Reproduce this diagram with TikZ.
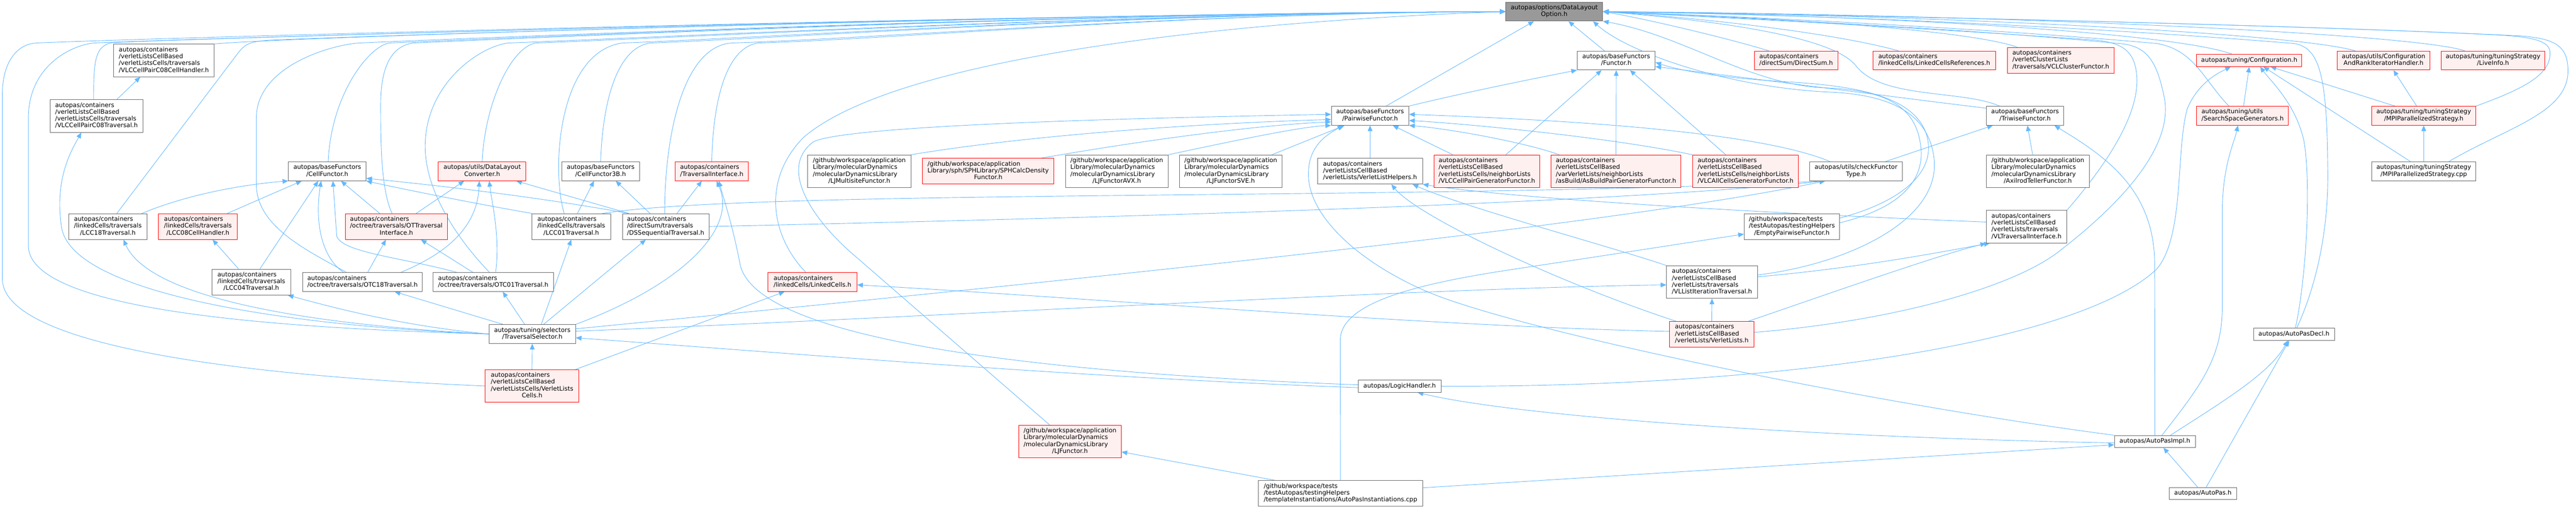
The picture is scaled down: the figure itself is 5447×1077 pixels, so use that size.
\documentclass[tikz,border=0pt]{standalone}
\usepackage{fontspec}
\setmainfont{DejaVu Sans}
\usepackage{tikz}
\usetikzlibrary{arrows.meta}
\pgfdeclarelayer{bg}
\pgfsetlayers{bg,main}
\definecolor{edgeblue}{HTML}{63B8FF}
\definecolor{boxgray}{HTML}{666666}
\definecolor{rootgray}{HTML}{999999}
\definecolor{truncfill}{HTML}{FFF0F0}
\newcommand{\flab}[2]{\begin{tabular}{@{}l@{}}#1\\\multicolumn{1}{@{}c@{}}{#2}\end{tabular}}
\newcommand{\fone}[1]{\begin{tabular}{@{}c@{}}#1\end{tabular}}
\tikzset{
  file/.style={draw=boxgray, fill=white, line width=1pt, inner xsep=4pt, inner ysep=5.5pt, font=\fontsize{13}{14.5}\selectfont},
  trunc/.style={file, draw=red, fill=truncfill},
  rootfile/.style={file, fill=rootgray},
  dep/.style={draw=edgeblue, line width=1pt, -{Triangle[length=12pt,width=10pt]}}
}
\begin{document}
\begin{tikzpicture}[x=1pt, y=-1pt]
\useasboundingbox (0,0) rectangle (5447,1077);
\begin{scope}
  % rank 0
  \node[rootfile, minimum width=205pt] (root) at (3286.5,24.5) {\flab{autopas/options/DataLayout}{Option.h}};
  % rank 1
  \node[file, minimum width=213pt] (vlccph) at (346.5,128) {\flab{autopas/containers\\/verletListsCellBased\\/verletListsCells/traversals}{/VLCCellPairC08CellHandler.h}};
  \node[file, minimum width=165pt] (functor) at (3417.5,128) {\flab{autopas/baseFunctors}{/Functor.h}};
  \node[trunc, minimum width=176pt] (directsum) at (3798,128) {\flab{autopas/containers}{/directSum/DirectSum.h}};
  \node[trunc, minimum width=260pt] (lcref) at (4090,128) {\flab{autopas/containers}{/linkedCells/LinkedCellsReferences.h}};
  \node[trunc, minimum width=225pt] (vclcf) at (4357.5,127.5) {\flab{autopas/containers\\/verletClusterLists}{/traversals/VCLClusterFunctor.h}};
  \node[trunc, minimum width=222pt] (config) at (4756,128) {\fone{autopas/tuning/Configuration.h}};
  \node[trunc, minimum width=196pt] (cfgrank) at (5040,128) {\flab{autopas/utils/Configuration}{AndRankIteratorHandler.h}};
  \node[trunc, minimum width=219pt] (liveinfo) at (5271.5,128) {\flab{autopas/tuning/tuningStrategy}{/LiveInfo.h}};
  % rank 2
  \node[file, minimum width=196pt] (vlccpt) at (204,245.5) {\flab{autopas/containers\\/verletListsCellBased\\/verletListsCells/traversals}{/VLCCellPairC08Traversal.h}};
  \node[file, minimum width=164pt] (pairf) at (2897,245) {\flab{autopas/baseFunctors}{/PairwiseFunctor.h}};
  \node[file, minimum width=164pt] (triwise) at (4282,245) {\flab{autopas/baseFunctors}{/TriwiseFunctor.h}};
  \node[trunc, minimum width=194pt] (ssgen) at (4742,245) {\flab{autopas/tuning/utils}{/SearchSpaceGenerators.h}};
  \node[trunc, minimum width=220pt] (mpih) at (5125,245) {\flab{autopas/tuning/tuningStrategy}{/MPIParallelizedStrategy.h}};
  % rank 3
  \node[file, minimum width=164pt] (cellf) at (692,362.5) {\flab{autopas/baseFunctors}{/CellFunctor.h}};
  \node[trunc, minimum width=185pt] (dlc) at (1019.5,362.5) {\flab{autopas/utils/DataLayout}{Converter.h}};
  \node[file, minimum width=164pt] (cellf3b) at (1270,362.5) {\flab{autopas/baseFunctors}{/CellFunctor3B.h}};
  \node[trunc, minimum width=154pt] (travif) at (1505,362.5) {\flab{autopas/containers}{/TraversalInterface.h}};
  \node[file, minimum width=218pt] (ljmulti) at (1817,362.5) {\flab{/github/workspace/application\\Library/molecularDynamics\\/molecularDynamicsLibrary}{/LJMultisiteFunctor.h}};
  \node[trunc, minimum width=277pt] (sph) at (2089.5,362.5) {\flab{/github/workspace/application\\Library/sph/SPHLibrary/SPHCalcDensity}{Functor.h}};
  \node[file, minimum width=217pt] (ljavx) at (2361.5,362.5) {\flab{/github/workspace/application\\Library/molecularDynamics\\/molecularDynamicsLibrary}{/LJFunctorAVX.h}};
  \node[file, minimum width=217pt] (ljsve) at (2602.5,362.5) {\flab{/github/workspace/application\\Library/molecularDynamics\\/molecularDynamicsLibrary}{/LJFunctorSVE.h}};
  \node[file, minimum width=222pt] (vlhelp) at (2897,362.5) {\flab{autopas/containers\\/verletListsCellBased}{/verletLists/VerletListHelpers.h}};
  \node[trunc, minimum width=224pt] (vlccpgf) at (3144,362.5) {\flab{autopas/containers\\/verletListsCellBased\\/verletListsCells/neighborLists}{/VLCCellPairGeneratorFunctor.h}};
  \node[trunc, minimum width=274pt] (asbuild) at (3417,362.5) {\flab{autopas/containers\\/verletListsCellBased\\/varVerletLists/neighborLists}{/asBuild/AsBuildPairGeneratorFunctor.h}};
  \node[trunc, minimum width=224pt] (vlcacgf) at (3691,362.5) {\flab{autopas/containers\\/verletListsCellBased\\/verletListsCells/neighborLists}{/VLCAllCellsGeneratorFunctor.h}};
  \node[file, minimum width=197pt] (checkft) at (3924.5,362.5) {\flab{autopas/utils/checkFunctor}{Type.h}};
  \node[file, minimum width=218pt] (axilrod) at (4309,362.5) {\flab{/github/workspace/application\\Library/molecularDynamics\\/molecularDynamicsLibrary}{/AxilrodTellerFunctor.h}};
  \node[file, minimum width=220pt] (mpicpp) at (5125,362.5) {\flab{autopas/tuning/tuningStrategy}{/MPIParallelizedStrategy.cpp}};
  % rank 4
  \node[file, minimum width=166pt] (lcc18) at (228,479.5) {\flab{autopas/containers\\/linkedCells/traversals}{/LCC18Traversal.h}};
  \node[trunc, minimum width=167pt] (lcc08ch) at (418.5,479.5) {\flab{autopas/containers\\/linkedCells/traversals}{/LCC08CellHandler.h}};
  \node[trunc, minimum width=216pt] (otti) at (838,479.5) {\flab{autopas/containers\\/octree/traversals/OTTraversal}{Interface.h}};
  \node[file, minimum width=166pt] (lcc01) at (1208,479.5) {\flab{autopas/containers\\/linkedCells/traversals}{/LCC01Traversal.h}};
  \node[file, minimum width=183pt] (dsseq) at (1407.5,479.5) {\flab{autopas/containers\\/directSum/traversals}{/DSSequentialTraversal.h}};
  \node[file, minimum width=202pt] (emptypf) at (3789,479.5) {\flab{/github/workspace/tests\\/testAutopas/testingHelpers}{/EmptyPairwiseFunctor.h}};
  \node[file, minimum width=170pt] (vltravif) at (4285,480) {\flab{autopas/containers\\/verletListsCellBased\\/verletLists/traversals}{/VLTraversalInterface.h}};
  % rank 5
  \node[file, minimum width=167pt] (lcc04) at (531.5,597) {\flab{autopas/containers\\/linkedCells/traversals}{/LCC04Traversal.h}};
  \node[file, minimum width=253pt] (otc18) at (766.5,597) {\flab{autopas/containers}{/octree/traversals/OTC18Traversal.h}};
  \node[file, minimum width=254pt] (otc01) at (1043,597) {\flab{autopas/containers}{/octree/traversals/OTC01Traversal.h}};
  \node[trunc, minimum width=188pt] (linkedcells) at (1718,597) {\flab{autopas/containers}{/linkedCells/LinkedCells.h}};
  \node[file, minimum width=192pt] (vllit) at (3620,597) {\flab{autopas/containers\\/verletListsCellBased\\/verletLists/traversals}{/VLListIterationTraversal.h}};
  % rank 6
  \node[file, minimum width=183pt] (travsel) at (1125.5,707) {\flab{autopas/tuning/selectors}{/TraversalSelector.h}};
  \node[trunc, minimum width=179pt] (verletlists) at (3619.5,707.5) {\flab{autopas/containers\\/verletListsCellBased}{/verletLists/VerletLists.h}};
  \node[file, minimum width=171pt] (autopasdecl) at (4850.5,707.5) {\fone{autopas/AutoPasDecl.h}};
  % rank 7
  \node[trunc, minimum width=198pt] (vlcells) at (1125,817) {\flab{autopas/containers\\/verletListsCellBased\\/verletListsCells/VerletLists}{Cells.h}};
  \node[file, minimum width=175pt] (logic) at (2959.5,817.5) {\fone{autopas/LogicHandler.h}};
  % rank 8
  \node[trunc, minimum width=217pt] (ljfunctor) at (2262.5,934.5) {\flab{/github/workspace/application\\Library/molecularDynamics\\/molecularDynamicsLibrary}{/LJFunctor.h}};
  \node[file, minimum width=171pt] (autopasimpl) at (4556.5,934.5) {\fone{autopas/AutoPasImpl.h}};
  % rank 9
  \node[file, minimum width=347pt] (instant) at (2834.5,1044.5) {\flab{/github/workspace/tests\\/testAutopas/testingHelpers}{/templateInstantiations/AutoPasInstantiations.cpp}};
  \node[file, minimum width=142pt] (autopash) at (4658,1044.5) {\fone{autopas/AutoPas.h}};
\begin{pgfonlayer}{bg}
  % into the root, from the left
  \draw[dep] (vlcells.west) .. controls (500,795) and (5,730) .. (5,590) -- (5,200) .. controls (5,130) and (37,93) .. (77,91) .. controls (377,78) and (2300,28) .. (root.west);
  \draw[dep] (travsel.west) .. controls (600,695) and (60,660) .. (60,520) -- (60,250) .. controls (60,140) and (150,96) .. (198,91) .. controls (498,78) and (2300,28) .. (root.west);
  \draw[dep] ([xshift=-6pt]vlccpt.north) .. controls (198,130) and (200,95) .. (240,90) .. controls (540,77) and (2300,28) .. (root.west);
  \draw[dep] (vlccph.north east) .. controls (600,78) and (2300,28) .. (root.west);
  \draw[dep] ([xshift=19pt]lcc18.north) -- (505,110) .. controls (520,92) and (530,88) .. (570,85) .. controls (870,72) and (2300,28) .. (root.west);
  \draw[dep] ([xshift=-34pt]otc18.north) .. controls (650,530) and (542,480) .. (542,390) -- (542,250) .. controls (542,140) and (700,95) .. (759,91) .. controls (1059,78) and (2300,28) .. (root.west);
  \draw[dep] ([xshift=2pt]cellf.north) .. controls (700,200) and (780,98) .. (823,91) .. controls (1123,78) and (2300,28) .. (root.west);
  \draw[dep] ([xshift=-9pt]otti.north) .. controls (805,400) and (805,300) .. (805,220) .. controls (805,130) and (835,96) .. (874,91) .. controls (1174,78) and (2300,28) .. (root.west);
  \draw[dep] ([xshift=-8pt]otc01.north) .. controls (990,530) and (899,420) .. (899,310) .. controls (899,180) and (1010,100) .. (1074,91) .. controls (1374,80) and (2400,28) .. (root.west);
  \draw[dep] (dlc.north) .. controls (1025,220) and (1080,100) .. (1133,91) .. controls (1433,80) and (2400,28) .. (root.west);
  \draw[dep] ([xshift=-15pt]lcc01.north) .. controls (1165,360) and (1180,110) .. (1316,91) .. controls (1616,80) and (2400,28) .. (root.west);
  \draw[dep] (cellf3b.north) .. controls (1275,200) and (1310,100) .. (1375,91) .. controls (1675,80) and (2400,28) .. (root.west);
  \draw[dep] ([xshift=-2pt]dsseq.north) .. controls (1405,300) and (1440,100) .. (1546,91) .. controls (1846,82) and (2500,28) .. (root.west);
  \draw[dep] (travif.north) .. controls (1508,200) and (1540,100) .. (1603,91) .. controls (1903,82) and (2500,28) .. (root.west);
  \draw[dep] ([xshift=-14pt]linkedcells.north) .. controls (1630,500) and (1610,380) .. (1700,290) .. controls (1900,120) and (2600,45) .. (root.west);
  % into the root, from below and from the right
  \draw[dep] ([xshift=34pt]pairf.north) -- ([xshift=-43pt]root.south);
  \draw[dep] ([xshift=-25pt]functor.north) -- ([xshift=30pt]root.south);
  \draw[dep] ([xshift=-58pt]directsum.north) .. controls (3650,80) and (3480,40) .. (root.east);
  \draw[dep] ([xshift=-76pt]lcref.north) .. controls (3880,70) and (3600,38) .. (root.east);
  \draw[dep] ([xshift=-92pt]vclcf.north) .. controls (4150,60) and (3700,35) .. (root.east);
  \draw[dep] ([xshift=-36pt]config.north) .. controls (4600,70) and (4000,33) .. (root.east);
  \draw[dep] ([xshift=-60pt]cfgrank.north) .. controls (4850,70) and (4100,32) .. (root.east);
  \draw[dep] ([xshift=-60pt]liveinfo.north) .. controls (5100,70) and (4200,30) .. (root.east);
  \draw[dep] (mpih.north east) .. controls (5330,190) and (5395,160) .. (5392,110) .. controls (5390,85) and (5350,78) .. (5280,74) .. controls (4800,50) and (3800,30) .. (root.east);
  \draw[dep] ([xshift=53pt]mpicpp.north) .. controls (5300,270) and (5430,240) .. (5430,150) .. controls (5430,95) and (5400,82) .. (5330,76) .. controls (4800,50) and (3800,30) .. (root.east);
  \draw[dep] (vltravif.north east) .. controls (4470,330) and (4535,220) .. (4515,140) .. controls (4505,100) and (4475,88) .. (4420,84) .. controls (4000,55) and (3600,35) .. (root.east);
  \draw[dep] ([yshift=4pt]verletlists.east) .. controls (4000,680) and (4250,610) .. (4350,535) .. controls (4500,420) and (4600,300) .. (4575,200) .. controls (4560,130) and (4540,100) .. (4490,93) .. controls (4100,55) and (3600,35) .. (root.east);
  \draw[dep] ([xshift=-29pt]ssgen.north) .. controls (4660,170) and (4640,105) .. (4560,92) .. controls (4200,60) and (3700,35) .. (root.east);
  \draw[dep] ([xshift=6pt]autopasdecl.north) .. controls (4900,600) and (4925,480) .. (4922,350) .. controls (4920,160) and (4905,100) .. (4850,92) .. controls (4400,55) and (3800,30) .. (root.east);
  \draw[dep] ([xshift=-54pt]triwise.north) .. controls (4150,190) and (3980,210) .. (3925,140) .. controls (3880,80) and (3650,45) .. (root.east);
  \draw[dep] ([yshift=8pt]emptypf.east) .. controls (4020,440) and (4075,380) .. (4060,300) .. controls (4045,210) and (3960,190) .. (3860,186) .. controls (3700,180) and (3560,75) .. (root.south east);
  \draw[dep] ([yshift=15pt]vllit.east) .. controls (3900,560) and (4100,470) .. (4090,340) .. controls (4080,230) and (3980,200) .. (3870,195) .. controls (3650,185) and (3440,110) .. ([xshift=82pt]root.south);
  % left part
  \draw[dep] ([xshift=43pt]vlccpt.north) -- ([xshift=-50pt]vlccph.south);
  \draw[dep] ([xshift=72pt]lcc18.north) .. controls (400,410) and (520,390) .. (cellf.south west);
  \draw[dep] ([xshift=62pt]lcc08ch.north) -- ([xshift=-54pt]cellf.south);
  \draw[dep] ([xshift=-27pt]lcc04.north) -- ([xshift=31pt]lcc08ch.south);
  \draw[dep] ([xshift=18pt]lcc04.north) -- ([xshift=-19pt]cellf.south);
  \draw[dep] ([xshift=-40pt]otc18.north) .. controls (680,545) and (665,470) .. ([xshift=-13pt]cellf.south);
  \draw[dep] ([xshift=11pt]otc18.north) -- ([xshift=-22pt]otti.south);
  \draw[dep] ([xshift=81pt]otc18.north) .. controls (960,530) and (1010,470) .. ([xshift=-6pt]dlc.south);
  \draw[dep] ([xshift=-35pt]otti.north) -- ([xshift=29pt]cellf.south);
  \draw[dep] ([xshift=42pt]otti.north) -- ([xshift=-38pt]dlc.south);
  \draw[dep] ([xshift=-43pt]otc01.north) -- ([xshift=52pt]otti.south);
  \draw[dep] ([xshift=-77pt]otc01.north) .. controls (850,545) and (725,535) .. (712,500) -- ([xshift=12pt]cellf.south);
  \draw[dep] ([xshift=5pt]otc01.north) .. controls (1058,500) and (1040,430) .. ([xshift=15pt]dlc.south);
  \draw[dep] (lcc01.north west) .. controls (1000,430) and (850,400) .. (cellf.south east);
  \draw[dep] ([xshift=-78pt]dsseq.north) .. controls (1100,410) and (850,385) .. ([yshift=-15pt]cellf.east);
  \draw[dep] ([xshift=-78pt]dsseq.north) -- ([xshift=72pt]dlc.south);
  \draw[dep] ([xshift=13pt]lcc01.north) -- ([xshift=-14pt]cellf3b.south);
  \draw[dep] ([xshift=-33pt]dsseq.north) -- ([xshift=32pt]cellf3b.south);
  \draw[dep] ([xshift=24pt]dsseq.north) -- ([xshift=-21pt]travif.south);
  \draw[dep] ([xshift=66pt]lcc01.north) .. controls (1600,400) and (3000,425) .. ([xshift=-65pt]checkft.south);
  \draw[dep] (dsseq.east) .. controls (2000,468) and (3300,440) .. ([xshift=-65pt]checkft.south);
  % traversal selector
  \draw[dep] ([yshift=11pt]travsel.east) .. controls (2200,600) and (3400,480) .. ([xshift=-65pt]checkft.south);
  \draw[dep] (travsel.west) .. controls (600,690) and (150,620) .. (130,480) .. controls (115,380) and (150,320) .. ([xshift=-32pt]vlccpt.south);
  \draw[dep] (travsel.west) .. controls (700,690) and (320,640) .. ([xshift=33pt]lcc18.south);
  \draw[dep] (travsel.west) .. controls (850,690) and (700,650) .. ([xshift=77pt]lcc04.south);
  \draw[dep] ([xshift=-62pt]travsel.north) -- ([xshift=68pt]otc18.south);
  \draw[dep] ([xshift=-16pt]travsel.north) -- ([xshift=20pt]otc01.south);
  \draw[dep] ([xshift=19pt]travsel.north) -- (lcc01.south);
  \draw[dep] ([xshift=24pt]travsel.north) -- ([xshift=-42pt]dsseq.south);
  \draw[dep] (travsel.north east) .. controls (1450,600) and (1560,480) .. ([xshift=10pt]travif.south);
  \draw[dep] ([yshift=6pt]travsel.east) .. controls (2000,670) and (3000,610) .. ([yshift=-6pt]vllit.west);
  \draw[dep] (vlcells.north) -- (travsel.south);
  \draw[dep] ([xshift=92pt]vlcells.north) -- ([xshift=-59pt]linkedcells.south);
  % logic handler
  \draw[dep] ([yshift=3pt]logic.west) .. controls (2200,790) and (1600,720) .. (1565,560) .. controls (1550,480) and (1530,420) .. ([xshift=15pt]travif.south);
  \draw[dep] ([yshift=-3pt]logic.west) .. controls (2300,800) and (1700,750) .. ([yshift=-8pt]travsel.east);
  \draw[dep] (logic.east) .. controls (3800,820) and (4400,720) .. (4560,570) .. controls (4620,500) and (4600,320) .. (4625,230) .. controls (4650,170) and (4700,150) .. ([xshift=-39pt]config.south);
  % functors
  \draw[dep] ([xshift=-43pt]ljfunctor.north) -- (1800,535) .. controls (1730,474) and (1640,360) .. (1720,300) .. controls (1800,262) and (2500,248) .. ([yshift=3pt]pairf.west);
  \draw[dep] (ljmulti.north east) .. controls (2150,290) and (2500,262) .. ([yshift=-8pt]pairf.west);
  \draw[dep] ([xshift=112pt]sph.north) .. controls (2400,300) and (2650,265) .. ([yshift=-13pt]pairf.west);
  \draw[dep] (ljavx.north east) .. controls (2600,300) and (2750,268) .. (pairf.south west);
  \draw[dep] ([xshift=87pt]ljsve.north) -- ([xshift=-54pt]pairf.south);
  \draw[dep] (vlhelp.north) -- (pairf.south);
  \draw[dep] ([xshift=-72pt]vlccpgf.north) -- ([xshift=48pt]pairf.south);
  \draw[dep] ([xshift=40pt]vlccpgf.north) -- ([xshift=-31pt]functor.south);
  \draw[dep] (asbuild.north) -- (functor.south);
  \draw[dep] ([xshift=-120pt]asbuild.north) .. controls (3220,300) and (3060,272) .. (pairf.south east);
  \draw[dep] ([xshift=-42pt]vlcacgf.north) -- ([xshift=29pt]functor.south);
  \draw[dep] (vlcacgf.north west) .. controls (3400,290) and (3100,262) .. ([yshift=-10pt]pairf.east);
  \draw[dep] ([xshift=-55pt]checkft.north) .. controls (3700,270) and (3200,250) .. ([yshift=3pt]pairf.east);
  \draw[dep] ([xshift=62pt]checkft.north) -- ([xshift=-68pt]triwise.south);
  \draw[dep] ([xshift=-11pt]axilrod.north) -- ([xshift=5pt]triwise.south);
  \draw[dep] (pairf.north east) .. controls (3100,195) and (3250,165) .. (functor.south west);
  \draw[dep] ([yshift=16pt]triwise.west) .. controls (4000,205) and (3700,165) .. ([yshift=-13pt]functor.east);
  \draw[dep] ([yshift=18pt]emptypf.east) .. controls (4010,430) and (4095,370) .. (4075,290) .. controls (4050,195) and (3900,180) .. (3760,172) .. controls (3650,165) and (3560,152) .. ([yshift=-4pt]functor.east);
  % verlet lists
  \draw[dep] ([yshift=6pt]verletlists.west) .. controls (3000,690) and (2300,630) .. ([yshift=-6pt]linkedcells.east);
  \draw[dep] (verletlists.north) -- (vllit.south);
  \draw[dep] ([xshift=-76pt]verletlists.north) .. controls (3300,600) and (3000,460) .. ([xshift=45pt]vlhelp.south);
  \draw[dep] ([xshift=78pt]verletlists.north) .. controls (3900,610) and (4100,540) .. (vltravif.south west);
  \draw[dep] (vllit.north west) .. controls (3400,520) and (3100,440) .. ([xshift=90pt]vlhelp.south);
  \draw[dep] ([yshift=11pt]vllit.east) .. controls (3950,565) and (4120,530) .. ([xshift=8pt]vltravif.south west);
  \draw[dep] ([yshift=10pt]vltravif.west) .. controls (3700,450) and (3200,420) .. (vlhelp.south east);
  % tests and autopas
  \draw[dep] ([xshift=-138pt]instant.north) -- ([yshift=-22pt]ljfunctor.east);
  \draw[dep] (instant.north) -- (2834,720) .. controls (2834,640) and (3000,600) .. (3200,570) .. controls (3400,540) and (3560,515) .. ([yshift=-16pt]emptypf.west);
  \draw[dep] ([yshift=12pt]instant.east) -- ([yshift=-7pt]autopasimpl.west);
  \draw[dep] (autopasimpl.north west) .. controls (4000,860) and (3300,720) .. (3050,630) .. controls (2900,575) and (2750,460) .. (2768,350) .. controls (2775,300) and (2815,280) .. ([xshift=-57pt]pairf.south);
  \draw[dep] ([yshift=-3pt]autopasimpl.west) .. controls (3800,925) and (3200,880) .. ([xshift=38pt]logic.south);
  \draw[dep] (autopasimpl.north) -- (4556,560) .. controls (4556,400) and (4450,330) .. ([xshift=62pt]triwise.south);
  \draw[dep] ([xshift=15pt]autopasimpl.north) .. controls (4650,820) and (4699,760) .. (4699,650) -- (4699,450) .. controls (4699,350) and (4725,300) .. ([xshift=-10pt]ssgen.south);
  \draw[dep] ([xshift=33pt]autopasimpl.north) .. controls (4700,850) and (4800,790) .. ([xshift=-13pt]autopasdecl.south);
  \draw[dep] ([xshift=-11pt]autopash.north) -- ([xshift=18pt]autopasimpl.south);
  \draw[dep] ([xshift=7pt]autopash.north) -- ([xshift=-10pt]autopasdecl.south);
  \draw[dep] ([xshift=3pt]autopasdecl.north) .. controls (4875,600) and (4888,400) .. (4872,300) .. controls (4855,220) and (4800,170) .. ([xshift=23pt]config.south);
  % tuning
  \draw[dep] ([xshift=2pt]ssgen.north) -- (config.south);
  \draw[dep] ([xshift=-28pt]mpicpp.north) -- ([xshift=30pt]config.south);
  \draw[dep] (mpicpp.north) -- (mpih.south);
  \draw[dep] ([xshift=-61pt]mpih.north) -- ([xshift=45pt]config.south);
  \draw[dep] ([xshift=-15pt]mpih.north) -- ([xshift=21pt]cfgrank.south);
\end{pgfonlayer}
\end{scope}
\end{tikzpicture}
\end{document}
